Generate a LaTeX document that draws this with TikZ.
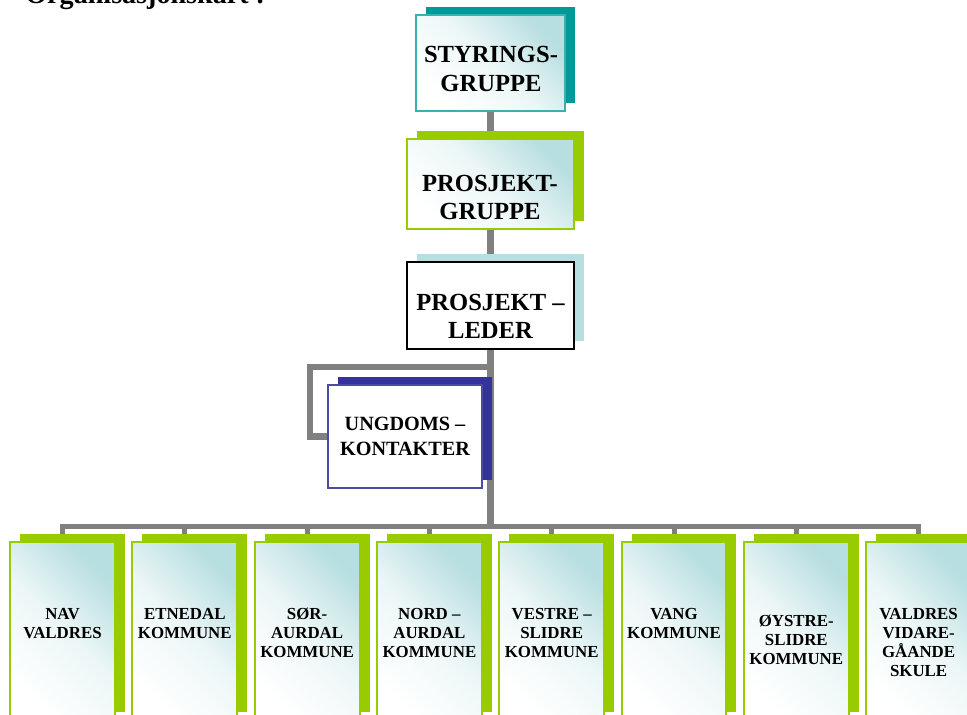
\documentclass[tikz,border=0pt]{standalone}
\usepackage{fontspec}
\setmainfont{Liberation Serif}
\usetikzlibrary{shadows,backgrounds}

\definecolor{tealdark}{HTML}{009999}
\definecolor{tealline}{HTML}{3AB0B0}
\definecolor{limegreen}{HTML}{99CC00}
\definecolor{paleblue}{HTML}{B7DEE0}
\definecolor{navyblue}{HTML}{333399}
\definecolor{navyline}{HTML}{4B4BA5}
\definecolor{linegray}{HTML}{808080}

\begin{document}
\begin{tikzpicture}[x=0.02cm, y=-0.02cm,
  shadowbox/.style={rectangle, inner sep=0pt, line width=0.04cm,
    copy shadow={shadow xshift=0.2cm, shadow yshift=0.16cm, draw=none, fill=#1}},
  glow/.style={top color=paleblue, bottom color=white, middle color=white!75!paleblue, shading angle=-45},
  boardbox/.style={shadowbox=tealdark, draw=tealline, glow, minimum width=2.98cm, minimum height=1.92cm},
  groupbox/.style={shadowbox=limegreen, draw=limegreen, glow, minimum width=3.36cm, minimum height=1.8cm},
  leadbox/.style={shadowbox=paleblue, draw=black, fill=white, minimum width=3.34cm, minimum height=1.74cm},
  youthbox/.style={shadowbox=navyblue, draw=navyline, fill=white, minimum width=3.08cm, minimum height=2.06cm},
  unitbox/.style={shadowbox=limegreen, draw=limegreen, glow, minimum width=2.1cm, minimum height=3.56cm},
  bigtxt/.style={align=center, inner sep=0pt, font=\fontsize{14}{16}\selectfont\bfseries},
  midtxt/.style={align=center, inner sep=0pt, font=\fontsize{11.5}{14.2}\selectfont\bfseries},
  smalltxt/.style={align=center, anchor=north, inner sep=0pt, font=\fontsize{9.6}{10.8}\selectfont\bfseries},
  trunk/.style={linegray, line width=0.13cm},
  branch/.style={linegray, line width=0.1cm}]
\useasboundingbox (0,0) rectangle (967,714);

% Title (cut off at the top edge)
\node[anchor=base west, inner sep=0pt, font=\fontsize{16}{19}\selectfont\bfseries] at (25,3.5) (title) {Organisasjonskart :};

% Create the upper boxes
\node[boardbox] at (490.5,63) (styr) {};
\node[groupbox] at (490.5,184) (pgrp) {};
\node[leadbox] at (490.5,305.5) (lead) {};
\node[youthbox] at (405,436.5) (ung) {};

% Label upper boxes
\node[bigtxt] at (491,69) (styr-t) {STYRINGS-\\GRUPPE};
\node[bigtxt] at (490,197.5) (pgrp-t) {PROSJEKT-\\GRUPPE};
\node[bigtxt] at (490.5,316) (lead-t) {PROSJEKT –\\LEDER};
\node[midtxt] at (405,436) (ung-t) {UNGDOMS –\\KONTAKTER};

% Create the row of members
\foreach \i in {1,...,8}
  \node[unitbox] at ({62.5+122.3*(\i-1)},631) (k\i) {};

% Label the members
\foreach \i/\dy/\txt in {1/0/{NAV\\VALDRES}, 2/0/{ETNEDAL\\KOMMUNE},
    3/0/{SØR-\\AURDAL\\KOMMUNE}, 4/0/{NORD –\\AURDAL\\KOMMUNE},
    5/0/{VESTRE –\\SLIDRE\\KOMMUNE}, 6/0/{VANG\\KOMMUNE},
    7/7/{ØYSTRE-\\SLIDRE\\KOMMUNE}, 8/0/{VALDRES\\VIDARE-\\GÅANDE\\SKULE}}
  \node[smalltxt] at ([yshift=-\dy*0.02cm]k\i |- 0,608) (k\i-t) {\txt};

% Connectors behind the boxes
\begin{scope}[on background layer]
\draw[trunk] (styr) -- (pgrp);
\draw[trunk] (pgrp) -- (lead);
\coordinate (bus) at (490.5,526);
\draw[trunk] (lead) -- (bus);
\coordinate (ungtap) at (490.5,367);
\draw[trunk] (ungtap) -| ([xshift=-0.34cm]ung.west) -- (ung.west);
\foreach \i in {1,...,8}
  \draw[branch] (bus) -| (k\i.north);
\end{scope}

\end{tikzpicture}
\end{document}
